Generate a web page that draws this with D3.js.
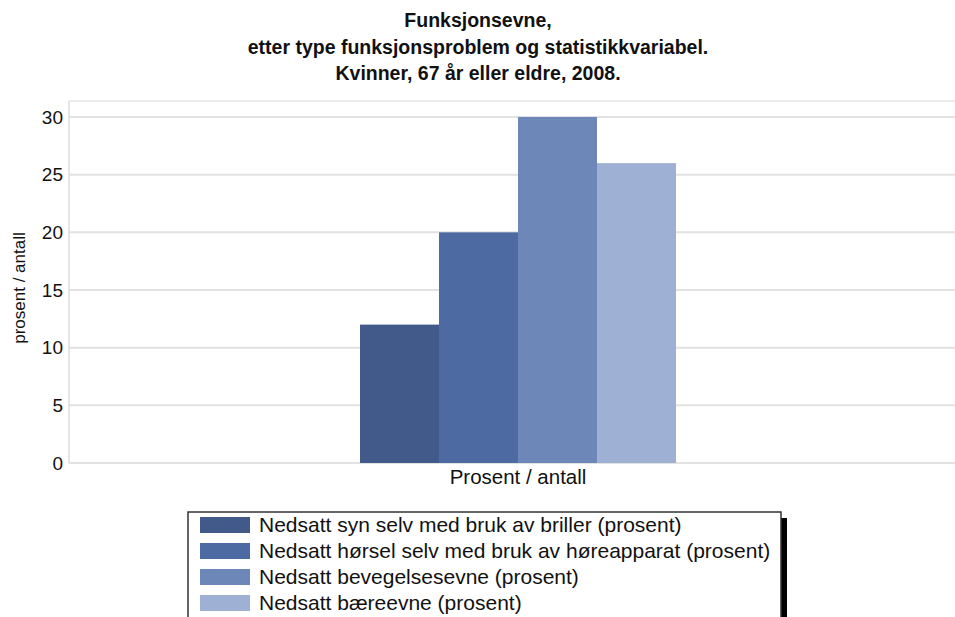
<!DOCTYPE html>
<html>
<head>
<meta charset="utf-8">
<script src="https://cdn.jsdelivr.net/npm/d3@7"></script>
<style>
  body { margin: 0; background: #fff; }
  text { font-family: "Liberation Sans", Arial, sans-serif; fill: #111; }
  .title { font-weight: bold; font-size: 19.5px; }
</style>
</head>
<body>
<div id="chart"></div>
<script>
const categories = ['Prosent / antall'];
const series = [
  'Nedsatt syn selv med bruk av briller (prosent)',
  'Nedsatt hørsel selv med bruk av høreapparat (prosent)',
  'Nedsatt bevegelsesevne (prosent)',
  'Nedsatt bæreevne (prosent)'
];
const values = [12, 20, 30, 26];
const colors = ['#425a89', '#4d6aa3', '#6d88b8', '#9fb0d5'];
const yTicks = [0, 5, 10, 15, 20, 25, 30];
const titleLines = [
  'Funksjonsevne,',
  'etter type funksjonsproblem og statistikkvariabel.',
  'Kvinner, 67 år eller eldre, 2008.'
];

const W = 955, H = 617;
const plot = { left: 69, right: 955, top: 101, bottom: 463 };

const svg = d3.select('#chart').append('svg')
    .attr('width', W)
    .attr('height', H);

// title
svg.selectAll('text.title')
    .data(titleLines)
    .enter()
    .append('text')
    .attr('class', 'title')
    .attr('x', 478)
    .attr('y', (d, i) => 27 + i * 26.5)
    .attr('text-anchor', 'middle')
    .text(d => d);

// scales
const y = d3.scaleLinear().domain([0, 30]).range([plot.bottom, 117]);
const x0 = d3.scaleBand().domain(categories).range([plot.left, 967]).paddingOuter(0.921).paddingInner(0);
const x1 = d3.scaleBand().domain(series).range([0, x0.bandwidth()]);

// frame top line
svg.append('line')
    .attr('x1', plot.left).attr('x2', plot.right)
    .attr('y1', plot.top).attr('y2', plot.top)
    .attr('stroke', '#ececec').attr('stroke-width', 2);

// gridlines
svg.append('g')
    .selectAll('line')
    .data(yTicks)
    .enter()
    .append('line')
    .attr('x1', plot.left).attr('x2', plot.right)
    .attr('y1', d => y(d)).attr('y2', d => y(d))
    .attr('stroke', '#e2e2e2').attr('stroke-width', 2);

// left frame
svg.append('line')
    .attr('x1', plot.left).attr('x2', plot.left)
    .attr('y1', plot.top).attr('y2', plot.bottom)
    .attr('stroke', '#dcdcdc').attr('stroke-width', 1.5);

// y axis
const yAxis = svg.append('g')
    .attr('transform', `translate(${plot.left},0)`)
    .call(d3.axisLeft(y).tickValues(yTicks).tickSize(0).tickPadding(6));
yAxis.select('.domain').remove();
yAxis.selectAll('text')
    .attr('font-family', '"Liberation Sans", Arial, sans-serif')
    .attr('font-size', 19)
    .attr('fill', '#222');

// y axis label
svg.append('text')
    .attr('transform', 'translate(25,288) rotate(-90)')
    .attr('text-anchor', 'middle')
    .attr('font-size', 17)
    .text('prosent / antall');

// bars
const group = svg.append('g')
    .selectAll('g')
    .data(categories)
    .enter()
    .append('g')
    .attr('transform', d => `translate(${x0(d)},0)`);

group.selectAll('rect')
    .data(series.map((s, i) => ({ s, v: values[i], c: colors[i] })))
    .enter()
    .append('rect')
    .attr('x', d => x1(d.s))
    .attr('y', d => y(d.v))
    .attr('width', x1.bandwidth())
    .attr('height', d => y(0) - y(d.v))
    .attr('fill', d => d.c);

// x axis category label
const xAxis = svg.append('g')
    .attr('transform', `translate(0,${plot.bottom})`)
    .call(d3.axisBottom(x0).tickSize(0).tickPadding(6));
xAxis.select('.domain').remove();
xAxis.selectAll('text')
    .attr('font-family', '"Liberation Sans", Arial, sans-serif')
    .attr('font-size', 20.5)
    .attr('fill', '#111');

// legend
const lg = svg.append('g').attr('transform', 'translate(188,512)');
lg.append('rect')
    .attr('x', 593).attr('y', 6)
    .attr('width', 6).attr('height', 120)
    .attr('fill', '#000');
lg.append('rect')
    .attr('x', 0).attr('y', 0)
    .attr('width', 593).attr('height', 120)
    .attr('fill', '#fff')
    .attr('stroke', '#333').attr('stroke-width', 1.5);

const items = lg.selectAll('g.item')
    .data(series)
    .enter()
    .append('g')
    .attr('class', 'item')
    .attr('transform', (d, i) => `translate(12,${5 + i * 26})`);
items.append('rect')
    .attr('width', 50).attr('height', 16)
    .attr('fill', (d, i) => colors[i]);
items.append('text')
    .attr('x', 59).attr('y', 15)
    .attr('font-size', 21)
    .text(d => d);
</script>
</body>
</html>
